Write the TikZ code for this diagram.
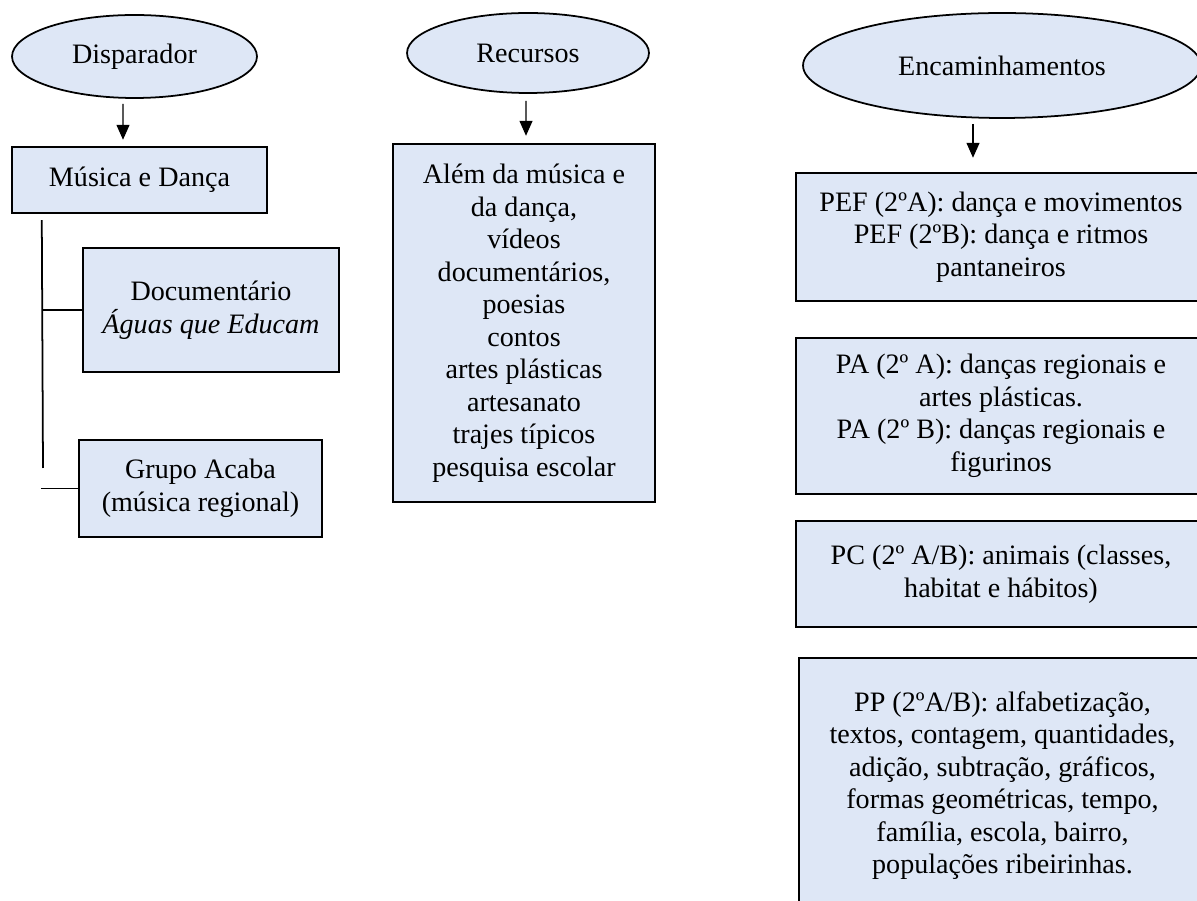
\documentclass[tikz,border=0pt]{standalone}
\usepackage{fontspec}
\setmainfont{Liberation Serif}
\usepackage{tikz}
\usetikzlibrary{shapes.geometric,arrows.meta}
\definecolor{boxfill}{RGB}{222,231,246}

\tikzset{
  elip/.style={ellipse, draw, line width=1pt, fill=boxfill, inner sep=0pt},
  caixa/.style={rectangle, draw, line width=1.4pt, fill=boxfill, align=center, inner sep=0pt},
  seta/.style={-{Triangle[length=0.3cm,width=0.26cm]}, line width=0.75pt},
  liga/.style={line width=1pt}
}

\begin{document}
\begin{tikzpicture}[x=0.02cm, y=-0.02cm, font=\fontsize{16}{18.5}\selectfont]
        \path[use as bounding box, clip] (0,0) rectangle (1197,901);
        % Disparador column
        \node[elip, minimum width=4.9cm, minimum height=1.66cm] (disp) at (134.5,56.5) {Disparador};
        \node[caixa, minimum width=5.1cm, minimum height=1.32cm] (musica) at (139.5,180) {Música e Dança};
        \node[caixa, minimum width=5.12cm, minimum height=2.48cm] (docu) at (211,310) {Documentário\\\textit{Águas que Educam}};
        \node[caixa, minimum width=4.86cm, minimum height=1.94cm] (grupo) at (200.5,488.5) {Grupo Acaba\\(música regional)};
        \draw[seta] ([xshift=-0.23cm,yshift=-0.1cm]disp.south) -- ([xshift=-0.33cm,yshift=0.12cm]musica.north);
        \coordinate (tronco) at ([xshift=0.62cm,yshift=-0.12cm]musica.south west);
        \coordinate (troncofim) at (43,468);
        \draw[liga] (tronco) -- (troncofim);
        \draw[liga] (tronco |- docu.west) -- (docu.west);
        \draw[liga] ([xshift=-0.74cm]grupo.west) -- (grupo.west);
        % Recursos column
        \node[elip, minimum width=4.84cm, minimum height=1.6cm] (recu) at (528,53) {Recursos};
        \node[caixa, minimum width=5.24cm, minimum height=7.16cm] (recbox) at (524,323)
            {Além da música e\\da dança,\\vídeos\\documentários,\\poesias\\contos\\artes plásticas\\artesanato\\trajes típicos\\pesquisa escolar};
        \draw[seta] ([xshift=-0.04cm,yshift=-0.14cm]recu.south) -- ([xshift=0.04cm,yshift=0.14cm]recbox.north);
        % Encaminhamentos column
        \node[elip, minimum width=7.96cm, minimum height=2.1cm] (enca) at (1002,65.5) {Encaminhamentos};
        \node[caixa, minimum width=8.2cm, minimum height=2.56cm] (pef) at (1001,237)
            {PEF (2ºA): dança e movimentos\\PEF (2ºB): dança e ritmos\\pantaneiros};
        \node[caixa, minimum width=8.2cm, minimum height=3.12cm] (pa) at (1001,416)
            {PA (2º A): danças regionais e\\artes plásticas.\\PA (2º B): danças regionais e\\figurinos};
        \node[caixa, minimum width=8.2cm, minimum height=2.12cm] (pc) at (1001,574)
            {PC (2º A/B): animais (classes,\\habitat e hábitos)};
        \node[caixa, minimum width=8.14cm, minimum height=5.1cm] (pp) at (1002.5,785.5)
            {PP (2ºA/B): alfabetização,\\textos, contagem, quantidades,\\adição, subtração, gráficos,\\formas geométricas, tempo,\\família, escola, bairro,\\populações ribeirinhas.};
        \draw[seta] ([xshift=-0.58cm,yshift=-0.1cm]enca.south) -- ([xshift=-0.56cm,yshift=0.28cm]pef.north);
\end{tikzpicture}
\end{document}
